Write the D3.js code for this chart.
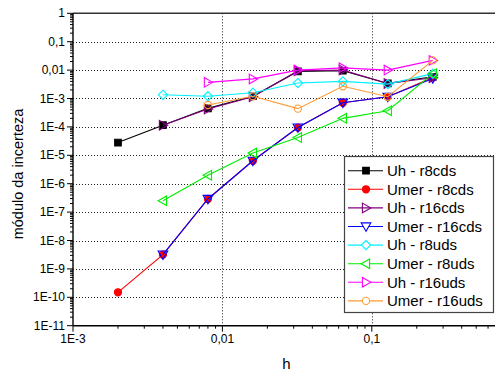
<!DOCTYPE html>
<html>
<head>
<meta charset="utf-8">
<script src="https://cdn.jsdelivr.net/npm/d3@7/dist/d3.min.js"></script>
<style>
  html, body { margin: 0; padding: 0; background: #fff; }
  svg { display: block; font-family: "Liberation Sans", Arial, sans-serif; }
</style>
</head>
<body>
<svg id="chart" width="495" height="376"></svg>
<script>
// Grid step sizes h
const hValues = [0.002, 0.004, 0.008, 0.016, 0.032, 0.064, 0.128, 0.256];

// Uncertainty modulus per series (null = not computed for that h)
const uhR8cds    = [2.8e-5, 1.15e-4, 4.5e-4, 1.2e-3, 9.0e-3, 9.5e-3, 3.4e-3, 5.8e-3];
const umerR8cds  = [1.5e-10, 3.2e-9, 2.9e-7, 6.4e-6, 9.5e-5, 7.1e-4, 1.15e-3, 5.5e-3];
const uhR16cds   = [null, 1.15e-4, 4.3e-4, 1.15e-3, 9.5e-3, 1.0e-2, 3.4e-3, 5.4e-3];
const umerR16cds = [null, 3.2e-9, 2.9e-7, 6.4e-6, 9.5e-5, 7.1e-4, 1.15e-3, 5.1e-3];
const uhR8uds    = [null, 1.35e-3, 1.2e-3, 1.6e-3, 3.5e-3, 4.0e-3, 3.2e-3, 7.5e-3];
const umerR8uds  = [null, 2.5e-7, 2.0e-6, 1.2e-5, 4.2e-5, 2.0e-4, 3.7e-4, 7.5e-3];
const uhR16uds   = [null, null, 3.7e-3, 4.9e-3, 1.0e-2, 1.2e-2, 1.0e-2, 2.2e-2];
const umerR16uds = [null, null, 5.9e-4, 1.2e-3, 4.4e-4, 2.7e-3, 1.15e-3, 2.2e-2];

const seriesNames = ["Uh - r8cds", "Umer - r8cds", "Uh - r16cds", "Umer - r16cds",
                     "Uh - r8uds", "Umer - r8uds", "Uh - r16uds", "Umer - r16uds"];
const seriesValues = [uhR8cds, umerR8cds, uhR16cds, umerR16cds, uhR8uds, umerR8uds, uhR16uds, umerR16uds];

// Axis tick labels
const xTickValues = [1e-3, 1e-2, 1e-1];
const xTickLabels = ["1E-3", "0,01", "0,1"];
const yTickValues = [1, 1e-1, 1e-2, 1e-3, 1e-4, 1e-5, 1e-6, 1e-7, 1e-8, 1e-9, 1e-10, 1e-11];
const yTickLabels = ["1", "0,1", "0,01", "1E-3", "1E-4", "1E-5", "1E-6", "1E-7", "1E-8", "1E-9", "1E-10", "1E-11"];

// Styling per series
const colors  = ["#000000", "#ff0000", "#800080", "#0000ff", "#00f0ff", "#00ee00", "#ff00ff", "#ff9933"];
const shapes  = ["square", "circle", "triRight", "triDown", "diamond", "triLeft", "triRight", "circle"];
const filled  = [true, true, false, false, false, false, false, false];

const svg = d3.select("#chart");
const plotLeft = 73, plotTop = 13.3, plotBottom = 325.7;
const decadeX = 149.4;
const W = 495;

const x = d3.scaleLog().domain([1e-3, 1]).range([plotLeft, plotLeft + 3 * decadeX]);
const y = d3.scaleLog().domain([1e-11, 1]).range([plotBottom, plotTop]);

// Marker path generators (radius-based)
function markerPath(shape, r) {
  const p = d3.path();
  switch (shape) {
    case "square":
      p.rect(-r, -r, 2 * r, 2 * r); break;
    case "circle":
      p.moveTo(r, 0); p.arc(0, 0, r, 0, 2 * Math.PI); p.closePath(); break;
    case "diamond":
      p.moveTo(0, -r); p.lineTo(r, 0); p.lineTo(0, r); p.lineTo(-r, 0); p.closePath(); break;
    case "triRight":
      p.moveTo(r, 0); p.lineTo(-r * 0.75, -r); p.lineTo(-r * 0.75, r); p.closePath(); break;
    case "triLeft":
      p.moveTo(-r, 0); p.lineTo(r * 0.75, -r); p.lineTo(r * 0.75, r); p.closePath(); break;
    case "triDown":
      p.moveTo(0, r); p.lineTo(-r, -r * 0.75); p.lineTo(r, -r * 0.75); p.closePath(); break;
  }
  return p.toString();
}
const markerR = { square: 3.3, circle: 3.6, diamond: 4.6, triRight: 4.8, triLeft: 4.8, triDown: 4.8 };

// Grid lines (dotted)
const grid = svg.append("g").attr("stroke", "#222").attr("stroke-width", 1).attr("stroke-dasharray", "1,2");
grid.selectAll("line.h").data(yTickValues.filter(v => v < 1 && v > 1e-11)).join("line")
  .attr("x1", plotLeft).attr("x2", W).attr("y1", d => Math.round(y(d)) + 0.5).attr("y2", d => Math.round(y(d)) + 0.5);
grid.selectAll("line.v").data([1e-2, 1e-1]).join("line")
  .attr("y1", plotTop).attr("y2", plotBottom).attr("x1", d => Math.round(x(d)) + 0.5).attr("x2", d => Math.round(x(d)) + 0.5);

// Top frame line
svg.append("line").attr("x1", plotLeft).attr("x2", W).attr("y1", plotTop).attr("y2", plotTop)
  .attr("stroke", "#333").attr("stroke-width", 1.6);

// Minor tick values for log axes
function minorTicks(scale) {
  const [a, b] = scale.domain();
  const out = [];
  for (let e = Math.floor(Math.log10(Math.min(a, b))); e < Math.log10(Math.max(a, b)); e++) {
    for (let k = 2; k <= 9; k++) out.push(k * Math.pow(10, e));
  }
  return out;
}

// X axis
const xAxis = svg.append("g");
xAxis.append("line").attr("x1", plotLeft).attr("x2", W).attr("y1", plotBottom).attr("y2", plotBottom)
  .attr("stroke", "#000").attr("stroke-width", 1.4);
xAxis.selectAll("line.minor").data(minorTicks(x).filter(v => x(v) <= W)).join("line")
  .attr("x1", d => x(d)).attr("x2", d => x(d)).attr("y1", plotBottom).attr("y2", plotBottom + 3)
  .attr("stroke", "#000");
xAxis.selectAll("line.major").data(xTickValues).join("line")
  .attr("x1", d => x(d)).attr("x2", d => x(d)).attr("y1", plotBottom).attr("y2", plotBottom + 6)
  .attr("stroke", "#000");
xAxis.selectAll("text").data(xTickValues).join("text")
  .attr("x", d => x(d)).attr("y", 343).attr("text-anchor", "middle")
  .attr("font-size", 12).text((d, i) => xTickLabels[i]);

// Y axis
const yAxis = svg.append("g");
yAxis.append("line").attr("x1", plotLeft).attr("x2", plotLeft).attr("y1", plotTop).attr("y2", plotBottom)
  .attr("stroke", "#000").attr("stroke-width", 1.4);
yAxis.selectAll("line.minor").data(minorTicks(y)).join("line")
  .attr("x1", plotLeft - 3).attr("x2", plotLeft).attr("y1", d => y(d)).attr("y2", d => y(d))
  .attr("stroke", "#000");
yAxis.selectAll("line.major").data(yTickValues).join("line")
  .attr("x1", plotLeft - 6).attr("x2", plotLeft).attr("y1", d => y(d)).attr("y2", d => y(d))
  .attr("stroke", "#000");
yAxis.selectAll("text").data(yTickValues).join("text")
  .attr("x", 65).attr("y", d => y(d) + 4).attr("text-anchor", "end")
  .attr("font-size", 12).text((d, i) => yTickLabels[i]);

// Axis titles
svg.append("text").attr("x", 286.5).attr("y", 369).attr("text-anchor", "middle")
  .attr("font-size", 15).text("h");
svg.append("text").attr("transform", "translate(23,174) rotate(-90)").attr("text-anchor", "middle")
  .attr("font-size", 14.5).text("módulo da incerteza");

// Series
const line = d3.line().defined(d => d.v != null).x(d => x(d.h)).y(d => y(d.v));
seriesValues.forEach((vals, i) => {
  const pts = hValues.map((h, j) => ({ h, v: vals[j] }));
  const g = svg.append("g");
  g.append("path").datum(pts).attr("d", line).attr("fill", "none")
    .attr("stroke", colors[i]).attr("stroke-width", 1.1);
  g.selectAll("path.m").data(pts.filter(d => d.v != null)).join("path")
    .attr("transform", d => `translate(${x(d.h)},${y(d.v)})`)
    .attr("d", markerPath(shapes[i], markerR[shapes[i]]))
    .attr("fill", filled[i] ? colors[i] : "none")
    .attr("stroke", colors[i]).attr("stroke-width", 1.1);
});

// Legend
const lg = svg.append("g");
lg.append("rect").attr("x", 344.5).attr("y", 156.5).attr("width", 149).attr("height", 156)
  .attr("fill", "#fff").attr("stroke", "#444").attr("stroke-width", 1.2);
seriesNames.forEach((name, i) => {
  const cy = 170.7 + i * 18.6;
  lg.append("line").attr("x1", 348).attr("x2", 383).attr("y1", cy).attr("y2", cy)
    .attr("stroke", colors[i]).attr("stroke-width", 1.1);
  lg.append("path").attr("transform", `translate(366,${cy})`)
    .attr("d", markerPath(shapes[i], markerR[shapes[i]]))
    .attr("fill", filled[i] ? colors[i] : (i === 2 ? "none" : "#fff"))
    .attr("stroke", colors[i]).attr("stroke-width", 1.1);
  lg.append("text").attr("x", 387).attr("y", cy + 5.3).attr("font-size", 15).text(name);
});
</script>
</body>
</html>
